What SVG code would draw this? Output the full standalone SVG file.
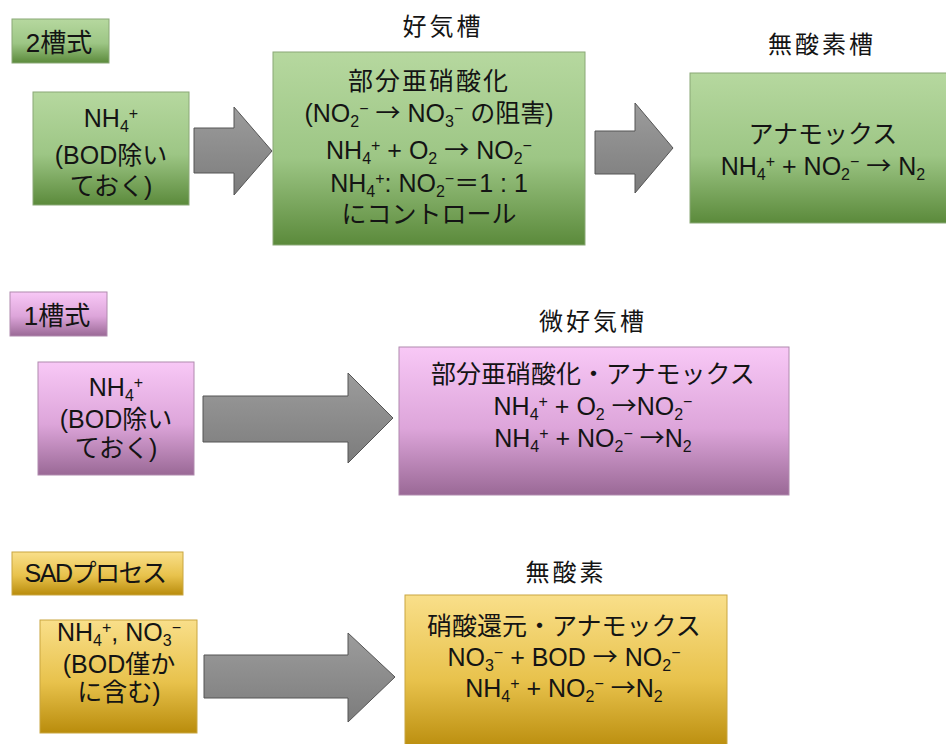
<svg xmlns="http://www.w3.org/2000/svg" width="946" height="744" viewBox="0 0 946 744">
<defs>
<linearGradient id="gG" x1="0" y1="0" x2="0" y2="1"><stop offset="0" stop-color="#b6d89f"/><stop offset="0.55" stop-color="#9dc685"/><stop offset="1" stop-color="#5b8a3b"/></linearGradient>
<linearGradient id="gP" x1="0" y1="0" x2="0" y2="1"><stop offset="0" stop-color="#f8c8f6"/><stop offset="0.55" stop-color="#dda5da"/><stop offset="1" stop-color="#9a6996"/></linearGradient>
<linearGradient id="gY" x1="0" y1="0" x2="0" y2="1"><stop offset="0" stop-color="#f9df8a"/><stop offset="0.55" stop-color="#e8c24c"/><stop offset="1" stop-color="#b98c0c"/></linearGradient>
<linearGradient id="gA" x1="0" y1="0" x2="0" y2="1"><stop offset="0" stop-color="#9c9c9c"/><stop offset="1" stop-color="#7c7c7c"/></linearGradient>
<style>
.t{font-family:"Liberation Sans","Noto Sans CJK JP",sans-serif;font-size:25px;fill:#141414;text-anchor:middle}
.ti{font-size:24px;letter-spacing:3px}
.s{font-size:16px}
.a{font-family:"Noto Sans CJK JP",sans-serif}
.g{fill:url(#gG);stroke:#8aa877;stroke-width:1}
.p{fill:url(#gP);stroke:#b08aae;stroke-width:1}
.y{fill:url(#gY);stroke:#c9a640;stroke-width:1}
.ar{fill:url(#gA);stroke:#555;stroke-width:1}
</style>
</defs>
<rect width="946" height="744" fill="#fff"/>

<g id="connectors">
<polygon class="ar" points="194,128 234,128 234,107 272,151 234,195 234,173 194,173"/>
<polygon class="ar" points="595,131 635,131 635,103 673,148 635,193 635,174 595,174"/>
<polygon class="ar" points="203,396 348,396 348,373 393,418 348,463 348,442 203,442"/>
<polygon class="ar" points="204,655 348,655 348,633 395,677 348,722 348,698 204,698"/>
</g>

<g id="label-2tank">
<rect class="g" x="12" y="19" width="97" height="44"/>
<text class="t" x="59" y="52" style="font-size:26px">2槽式</text>
</g>

<g id="node-2tank-input">
<rect class="g" x="33" y="92" width="156" height="113"/>
<text class="t" x="111" y="127">NH<tspan class="s" dy="5">4</tspan><tspan class="s" dy="-13">+</tspan></text>
<text class="t" x="111" y="164">(BOD除い</text>
<text class="t" x="111" y="195">ておく)</text>
</g>

<g id="node-aerobic">
<text class="t ti" x="443" y="35">好気槽</text>
<rect class="g" x="273" y="52" width="312" height="193"/>
<text class="t" x="429" y="90" style="letter-spacing:2px">部分亜硝酸化</text>
<text class="t" x="429" y="122">(NO<tspan class="s" dy="5">2</tspan><tspan class="s" dy="-13">−</tspan><tspan dy="8"> </tspan><tspan class="a">→</tspan> NO<tspan class="s" dy="5">3</tspan><tspan class="s" dy="-13">−</tspan><tspan dy="8"> の阻害)</tspan></text>
<text class="t" x="429" y="159">NH<tspan class="s" dy="5">4</tspan><tspan class="s" dy="-13">+</tspan><tspan dy="8"> + O</tspan><tspan class="s" dy="5">2</tspan><tspan dy="-5"> </tspan><tspan class="a">→</tspan>  NO<tspan class="s" dy="5">2</tspan><tspan class="s" dy="-13">−</tspan></text>
<text class="t" x="429" y="192">NH<tspan class="s" dy="5">4</tspan><tspan class="s" dy="-13">+</tspan><tspan dy="8">: NO</tspan><tspan class="s" dy="5">2</tspan><tspan class="s" dy="-13">−</tspan><tspan dy="8">＝1 : 1</tspan></text>
<text class="t" x="429" y="223">にコントロール</text>
</g>

<g id="node-anoxic">
<text class="t ti" x="822" y="53">無酸素槽</text>
<rect class="g" x="690" y="73" width="262" height="150"/>
<text class="t" x="823" y="143">アナモックス</text>
<text class="t" x="823" y="175">NH<tspan class="s" dy="5">4</tspan><tspan class="s" dy="-13">+</tspan><tspan dy="8"> + NO</tspan><tspan class="s" dy="5">2</tspan><tspan class="s" dy="-13">−</tspan><tspan dy="8"> </tspan><tspan class="a">→</tspan>  N<tspan class="s" dy="5">2</tspan></text>
</g>

<g id="label-1tank">
<rect class="p" x="10" y="292" width="97" height="44"/>
<text class="t" x="57" y="325" style="font-size:26px">1槽式</text>
</g>

<g id="node-1tank-input">
<rect class="p" x="38" y="362" width="156" height="113"/>
<text class="t" x="116" y="396">NH<tspan class="s" dy="5">4</tspan><tspan class="s" dy="-13">+</tspan></text>
<text class="t" x="116" y="428">(BOD除い</text>
<text class="t" x="116" y="457">ておく)</text>
</g>

<g id="node-microaerobic">
<text class="t ti" x="593" y="330">微好気槽</text>
<rect class="p" x="399" y="347" width="390" height="148"/>
<text class="t" x="593" y="383">部分亜硝酸化・アナモックス</text>
<text class="t" x="593" y="415">NH<tspan class="s" dy="5">4</tspan><tspan class="s" dy="-13">+</tspan><tspan dy="8"> + O</tspan><tspan class="s" dy="5">2</tspan><tspan dy="-5"> </tspan><tspan class="a">→</tspan>NO<tspan class="s" dy="5">2</tspan><tspan class="s" dy="-13">−</tspan></text>
<text class="t" x="593" y="447">NH<tspan class="s" dy="5">4</tspan><tspan class="s" dy="-13">+</tspan><tspan dy="8"> + NO</tspan><tspan class="s" dy="5">2</tspan><tspan class="s" dy="-13">−</tspan><tspan dy="8"> </tspan><tspan class="a">→</tspan>N<tspan class="s" dy="5">2</tspan></text>
</g>

<g id="label-sad">
<rect class="y" x="12" y="552" width="171" height="43"/>
<text class="t" x="95" y="582" style="letter-spacing:-1.5px">SADプロセス</text>
</g>

<g id="node-sad-input">
<rect class="y" x="40" y="620" width="157" height="113"/>
<text class="t" x="119" y="641">NH<tspan class="s" dy="5">4</tspan><tspan class="s" dy="-13">+</tspan><tspan dy="8">, NO</tspan><tspan class="s" dy="5">3</tspan><tspan class="s" dy="-13">−</tspan></text>
<text class="t" x="119" y="673">(BOD僅か</text>
<text class="t" x="119" y="701">に含む)</text>
</g>

<g id="node-anoxic-sad">
<text class="t ti" x="566" y="581">無酸素</text>
<rect class="y" x="405" y="595" width="322" height="155"/>
<text class="t" x="564" y="635">硝酸還元・アナモックス</text>
<text class="t" x="564" y="666">NO<tspan class="s" dy="5">3</tspan><tspan class="s" dy="-13">−</tspan><tspan dy="8"> + BOD </tspan><tspan class="a">→</tspan> NO<tspan class="s" dy="5">2</tspan><tspan class="s" dy="-13">−</tspan></text>
<text class="t" x="564" y="697">NH<tspan class="s" dy="5">4</tspan><tspan class="s" dy="-13">+</tspan><tspan dy="8"> + NO</tspan><tspan class="s" dy="5">2</tspan><tspan class="s" dy="-13">−</tspan><tspan dy="8"> </tspan><tspan class="a">→</tspan>N<tspan class="s" dy="5">2</tspan></text>
</g>
</svg>
